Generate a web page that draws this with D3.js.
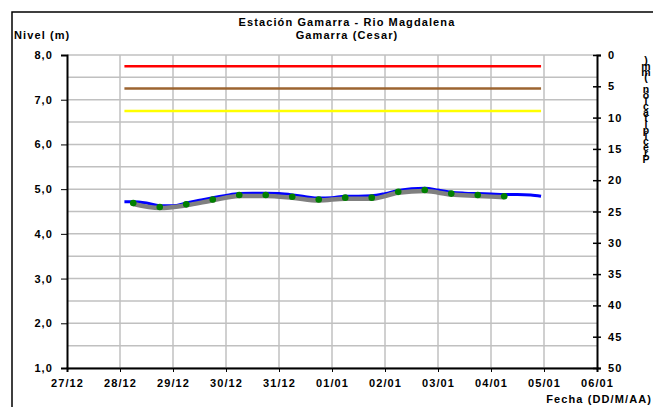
<!DOCTYPE html>
<html>
<head>
<meta charset="utf-8">
<script src="https://cdn.jsdelivr.net/npm/d3@7"></script>
<style>
  body { margin: 0; background: #fff; }
  text { font-family: "Liberation Sans", Arial, sans-serif; font-weight: bold; fill: #000; }
</style>
</head>
<body>
<div id="svg_container"></div>
<script>
// Chart data
const titleLines = ["Estación Gamarra - Rio Magdalena", "Gamarra (Cesar)"];
const xTickDates = ["2012-12-27", "2012-12-28", "2012-12-29", "2012-12-30", "2012-12-31",
    "2013-01-01", "2013-01-02", "2013-01-03", "2013-01-04", "2013-01-05", "2013-01-06"];
const nivelTicks = [1, 2, 3, 4, 5, 6, 7, 8];
const precipTicks = [0, 5, 10, 15, 20, 25, 30, 35, 40, 45, 50];

// hourly level (blue)
const nivelDates = ["2012-12-28 02:00", "2012-12-28 06:00", "2012-12-28 12:00", "2012-12-28 18:00",
    "2012-12-29 00:00", "2012-12-29 06:00", "2012-12-29 12:00", "2012-12-29 18:00",
    "2012-12-30 00:00", "2012-12-30 06:00", "2012-12-30 12:00", "2012-12-30 18:00",
    "2012-12-31 00:00", "2012-12-31 06:00", "2012-12-31 12:00", "2012-12-31 18:00",
    "2013-01-01 00:00", "2013-01-01 06:00", "2013-01-01 12:00", "2013-01-01 18:00",
    "2013-01-02 00:00", "2013-01-02 06:00", "2013-01-02 12:00", "2013-01-02 18:00",
    "2013-01-03 00:00", "2013-01-03 06:00", "2013-01-03 12:00", "2013-01-03 18:00",
    "2013-01-04 00:00", "2013-01-04 06:00", "2013-01-04 12:00", "2013-01-04 18:00",
    "2013-01-04 22:40"];
const nivelValues = [4.72, 4.72, 4.69, 4.63,
    4.63, 4.69, 4.75, 4.81,
    4.86, 4.90, 4.91, 4.91,
    4.90, 4.87, 4.83, 4.80,
    4.81, 4.84, 4.84, 4.85,
    4.90, 4.97, 5.01, 5.02,
    4.98, 4.93, 4.91, 4.90,
    4.89, 4.88, 4.88, 4.87,
    4.84];

// twice-daily readings (green dots, grey line)
const lecturaDates = ["2012-12-28 06:00", "2012-12-28 18:00", "2012-12-29 06:00", "2012-12-29 18:00",
    "2012-12-30 06:00", "2012-12-30 18:00", "2012-12-31 06:00", "2012-12-31 18:00",
    "2013-01-01 06:00", "2013-01-01 18:00", "2013-01-02 06:00", "2013-01-02 18:00",
    "2013-01-03 06:00", "2013-01-03 18:00", "2013-01-04 06:00"];
const lecturaValues = [4.69, 4.60, 4.66, 4.77, 4.87, 4.87, 4.83, 4.77,
    4.81, 4.81, 4.94, 4.98, 4.90, 4.87, 4.84];

// alert thresholds
const alertas = [
    { nivel: 7.75, color: "#ff0000" },
    { nivel: 7.25, color: "#9c6430" },
    { nivel: 6.75, color: "#ffff00" }
];

function createChart() {
    const width = 653, height = 407;
    const fs = 11, ls = 1.1; // font size, letter spacing
    const parseDay = d3.timeParse("%Y-%m-%d");
    const parseHour = d3.timeParse("%Y-%m-%d %H:%M");

    const svg = d3.select("#svg_container").append("svg")
        .attr("width", width)
        .attr("height", height);

    const left = 67, right = 597, top = 55, bottom = 368;

    const x = d3.scaleTime()
        .domain([parseDay(xTickDates[0]), parseDay(xTickDates[xTickDates.length - 1])])
        .range([left, right]);
    const y = d3.scaleLinear().domain([1, 8]).range([bottom, top]);
    const yR = d3.scaleLinear().domain([0, 50]).range([top, bottom]);

    // outer frame
    svg.append("rect")
        .attr("x", 12).attr("y", 12)
        .attr("width", 700).attr("height", 500)
        .attr("fill", "none").attr("stroke", "#000").attr("stroke-width", 1.5);

    // grid
    const grid = svg.append("g").attr("stroke", "#c0c0c0").attr("stroke-width", 1.5);
    grid.selectAll("line.h")
        .data(d3.range(1, 8.01, 0.5))
        .join("line")
        .attr("x1", left).attr("x2", right)
        .attr("y1", d => y(d)).attr("y2", d => y(d));
    grid.selectAll("line.v")
        .data(xTickDates.slice(1, -1))
        .join("line")
        .attr("x1", d => x(parseDay(d))).attr("x2", d => x(parseDay(d)))
        .attr("y1", top).attr("y2", bottom);

    // thresholds span the data period
    const x0 = x(parseHour(nivelDates[0]));
    const x1 = x(parseHour(nivelDates[nivelDates.length - 1]));
    svg.append("g")
        .selectAll("line")
        .data(alertas)
        .join("line")
        .attr("x1", x0).attr("x2", x1)
        .attr("y1", d => y(d.nivel)).attr("y2", d => y(d.nivel))
        .attr("stroke", d => d.color)
        .attr("stroke-width", 2.5);

    const nivel = nivelDates.map((d, i) => ({ t: parseHour(d), v: nivelValues[i] }));
    const lectura = lecturaDates.map((d, i) => ({ t: parseHour(d), v: lecturaValues[i] }));

    const line = d3.line()
        .x(d => x(d.t))
        .y(d => y(d.v))
        .curve(d3.curveMonotoneX);

    svg.append("path")
        .datum(nivel)
        .attr("d", line)
        .attr("fill", "none")
        .attr("stroke", "#0000ff")
        .attr("stroke-width", 3);

    svg.append("path")
        .datum(lectura)
        .attr("d", line)
        .attr("fill", "none")
        .attr("stroke", "#808080")
        .attr("stroke-width", 4.5)
        .attr("transform", "translate(0,1)");

    svg.append("g")
        .attr("fill", "#008000")
        .selectAll("circle")
        .data(lectura)
        .join("circle")
        .attr("cx", d => x(d.t))
        .attr("cy", d => y(d.v))
        .attr("r", 3.3);

    // axes
    const xAxis = svg.append("g")
        .attr("transform", `translate(0,${bottom})`)
        .call(d3.axisBottom(x)
            .tickValues(xTickDates.map(parseDay))
            .tickFormat(d3.timeFormat("%d/%m"))
            .tickSize(4).tickPadding(7));
    xAxis.select(".domain").attr("stroke-width", 2);

    const yAxis = svg.append("g")
        .attr("transform", `translate(${left},0)`)
        .call(d3.axisLeft(y)
            .tickValues(nivelTicks)
            .tickFormat(d => d3.format(".1f")(d).replace(".", ","))
            .tickSize(6).tickPadding(8));
    yAxis.select(".domain").attr("stroke-width", 2);

    const rAxis = svg.append("g")
        .attr("transform", `translate(${right},0)`)
        .call(d3.axisRight(yR)
            .tickValues(precipTicks)
            .tickSize(4).tickPadding(7));
    rAxis.select(".domain").attr("stroke-width", 2);
    rAxis.selectAll(".tick line").attr("x1", -4).attr("stroke-width", 1.5);

    svg.selectAll(".tick text")
        .attr("font-size", fs)
        .attr("letter-spacing", ls)
        .attr("fill", "#000");

    // titles
    svg.append("g")
        .selectAll("text")
        .data(titleLines)
        .join("text")
        .attr("x", 347)
        .attr("y", (d, i) => 26 + i * 13)
        .attr("text-anchor", "middle")
        .attr("font-size", fs)
        .attr("letter-spacing", ls)
        .text(d => d);

    svg.append("text")
        .attr("x", 14).attr("y", 39)
        .attr("font-size", fs)
        .attr("letter-spacing", ls)
        .text("Nivel (m)");

    svg.append("text")
        .attr("x", 652).attr("y", 403)
        .attr("text-anchor", "end")
        .attr("font-size", fs)
        .attr("letter-spacing", ls)
        .text("Fecha (DD/M/AA)");

    // right axis title: upright characters squeezed into a column, read bottom to top
    svg.append("text")
        .attr("x", 646).attr("y", 54)
        .attr("font-size", 10.5)
        .attr("letter-spacing", -6.2)
        .style("writing-mode", "vertical-rl")
        .style("text-orientation", "upright")
        .text(Array.from("Precipitación (mm)").reverse().join(""));
}

document.addEventListener("DOMContentLoaded", function () {
    createChart();
});
</script>
</body>
</html>
